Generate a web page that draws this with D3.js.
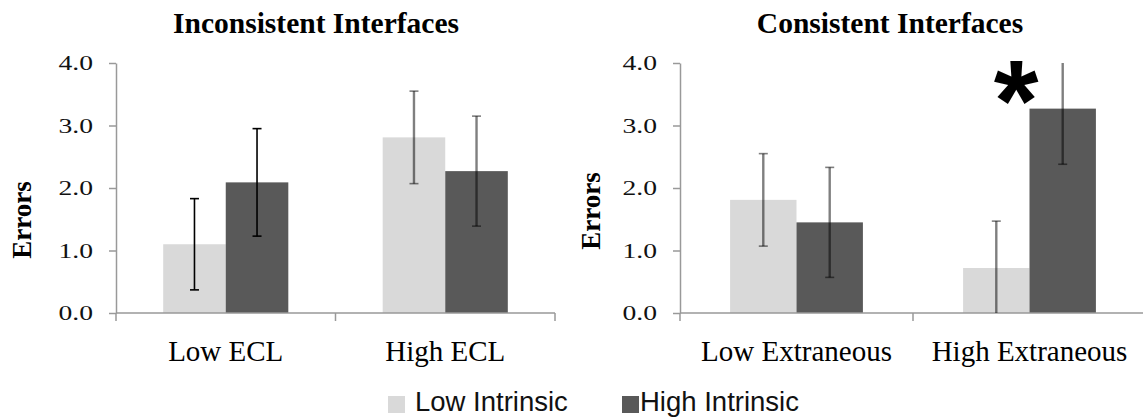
<!DOCTYPE html>
<html><head><meta charset="utf-8">
<script src="https://cdn.jsdelivr.net/npm/d3@7"></script>
<style>body{margin:0;background:#fff}svg{display:block}</style>
</head><body><svg id="c" width="1143" height="417"></svg>
<script>
const series = ["Low Intrinsic", "High Intrinsic"];
const yTicks = [0, 1, 2, 3, 4];
const yLabel = "Errors";

const leftTitle = "Inconsistent Interfaces";
const leftCategories = ["Low ECL", "High ECL"];
const leftLowIntrinsic = [1.10, 2.81];
const leftHighIntrinsic = [2.09, 2.27];
const leftLowIntrinsicErr = [0.73, 0.74];
const leftHighIntrinsicErr = [0.86, 0.88];

const rightTitle = "Consistent Interfaces";
const rightCategories = ["Low Extraneous", "High Extraneous"];
const rightLowIntrinsic = [1.81, 0.72];
const rightHighIntrinsic = [1.45, 3.27];
const rightLowIntrinsicErr = [0.74, 0.75];
const rightHighIntrinsicErr = [0.88, 0.89];
const rightSignificant = ["High Extraneous"];

const colors = ["#d9d9d9", "#595959"];
const svg = d3.select("#c");
svg.append("rect").attr("width", 1143).attr("height", 417).attr("fill", "#fff");

const y = d3.scaleLinear().domain([0, 4]).range([313, 63]);

function drawPanel(p, idx) {
  const g = svg.append("g");
  const x0 = d3.scaleBand().domain(p.cats).range([p.left, p.right]).paddingInner(0.43).paddingOuter(0.215);
  const x1 = d3.scaleBand().domain(series).range([0, x0.bandwidth()]);
  const color = d3.scaleOrdinal().domain(series).range(colors);

  const rows = p.cats.map((c, i) => ({
    cat: c, i,
    vals: [
      {s: series[0], v: p.low[i], e: p.lowErr[i]},
      {s: series[1], v: p.high[i], e: p.highErr[i]}
    ]
  }));

  // bars
  const grp = g.selectAll("g.cat").data(rows).join("g").attr("class", "cat")
    .attr("transform", d => `translate(${x0(d.cat)},0)`);
  grp.selectAll("rect").data(d => d.vals).join("rect")
    .attr("x", d => x1(d.s)).attr("width", x1.bandwidth())
    .attr("y", d => y(d.v)).attr("height", d => y(0) - y(d.v))
    .attr("fill", d => color(d.s));

  // y axis
  const ya = g.append("g").attr("transform", `translate(${p.left},0)`)
    .call(d3.axisLeft(y).tickValues(yTicks).tickFormat(d3.format(".1f")).tickSize(7).tickSizeOuter(0));
  ya.select(".domain").attr("stroke", "#999").attr("stroke-width", 1.5);
  ya.selectAll(".tick line").attr("stroke", "#999").attr("stroke-width", 1.5);
  ya.selectAll(".tick text").attr("x", 0).attr("dy", "0.34em")
    .attr("transform", "translate(-23,0) scale(1.38,1)")
    .attr("text-anchor", "end")
    .style("font-family", "'Liberation Serif', 'Times New Roman', serif")
    .style("font-size", "20px").attr("fill", "#111");

  // x axis
  const y0 = y(0);
  g.append("line").attr("x1", p.left).attr("x2", p.right).attr("y1", y0).attr("y2", y0)
    .attr("stroke", "#999").attr("stroke-width", 1.5);
  const bounds = [p.left].concat(p.cats.map((c, i) => p.left + x0.step() * (i + 1)));
  g.selectAll("line.xt").data(bounds).join("line").attr("class", "xt")
    .attr("x1", d => d).attr("x2", d => d).attr("y1", y0).attr("y2", y0 + 8)
    .attr("stroke", "#999").attr("stroke-width", 1.5);

  g.selectAll("text.cl").data(p.cats).join("text").attr("class", "cl")
    .attr("x", d => x0(d) + x0.bandwidth() / 2).attr("y", 361)
    .attr("text-anchor", "middle")
    .style("font-family", "'Liberation Serif', 'Times New Roman', serif")
    .style("font-size", "29px").attr("fill", "#000").text(d => d);

  // error bars (clipped to plot area)
  const clipId = "clip" + idx;
  svg.append("clipPath").attr("id", clipId).append("rect")
    .attr("x", p.left).attr("y", y(4)).attr("width", p.right - p.left).attr("height", y(0) - y(4));
  const eg = g.append("g").attr("clip-path", `url(#${clipId})`);
  rows.forEach(r => {
    const opaque = (idx === 0 && r.i === 0);
    r.vals.forEach(d => {
      const cx = x0(r.cat) + x1(d.s) + x1.bandwidth() / 2;
      const lo = y(d.v - d.e), hi = y(d.v + d.e);
      const sg = eg.append("g")
        .attr("stroke", "#000")
        .attr("stroke-opacity", opaque ? 1 : 0.5)
        .attr("stroke-width", opaque ? 1.6 : 2.4);
      sg.append("line").attr("x1", cx).attr("x2", cx).attr("y1", lo).attr("y2", hi);
      sg.append("line").attr("x1", cx - 4.5).attr("x2", cx + 4.5).attr("y1", lo).attr("y2", lo).attr("stroke-width", 1.6);
      sg.append("line").attr("x1", cx - 4.5).attr("x2", cx + 4.5).attr("y1", hi).attr("y2", hi).attr("stroke-width", 1.6);
    });
  });

  // title
  g.append("text").attr("x", p.titleX).attr("y", 33).attr("text-anchor", "middle")
    .style("font-family", "'Liberation Serif', 'Times New Roman', serif")
    .style("font-size", "29.5px").style("font-weight", "bold").attr("fill", "#000").text(p.title);

  // y label
  g.append("text").attr("transform", `translate(${p.ylx},${p.yly}) rotate(-90)`)
    .attr("text-anchor", "middle").attr("dy", "0.35em")
    .style("font-family", "'Liberation Serif', 'Times New Roman', serif")
    .style("font-size", "27px").style("font-weight", "bold").attr("fill", "#000").text(yLabel);

  // significance
  if (p.sig) {
    p.sig.forEach(c => {
      g.append("text").attr("x", x0(c) + x0.bandwidth() * 0.4).attr("y", y(4) + 77)
        .attr("text-anchor", "middle")
        .style("font-family", "'Liberation Sans', Arial, sans-serif")
        .style("font-size", "115px").style("font-weight", "bold").attr("fill", "#000").text("*");
    });
  }
}

drawPanel({left: 116, right: 555, titleX: 316, title: leftTitle, cats: leftCategories,
  low: leftLowIntrinsic, high: leftHighIntrinsic, lowErr: leftLowIntrinsicErr, highErr: leftHighIntrinsicErr,
  ylx: 22, yly: 220}, 0);
drawPanel({left: 680, right: 1146, titleX: 890, title: rightTitle, cats: rightCategories,
  low: rightLowIntrinsic, high: rightHighIntrinsic, lowErr: rightLowIntrinsicErr, highErr: rightHighIntrinsicErr,
  ylx: 591, yly: 211, sig: rightSignificant}, 1);

// legend
const leg = svg.append("g");
const legX = [388, 622];
series.forEach((s, i) => {
  leg.append("rect").attr("x", legX[i]).attr("y", 396).attr("width", 17).attr("height", 17).attr("fill", colors[i]);
  leg.append("text").attr("x", legX[i] + (i === 0 ? 27 : 18)).attr("y", 411)
    .style("font-family", "'Liberation Sans', Arial, sans-serif")
    .style("font-size", "27.5px").attr("fill", "#111").text(s);
});
</script></body></html>
